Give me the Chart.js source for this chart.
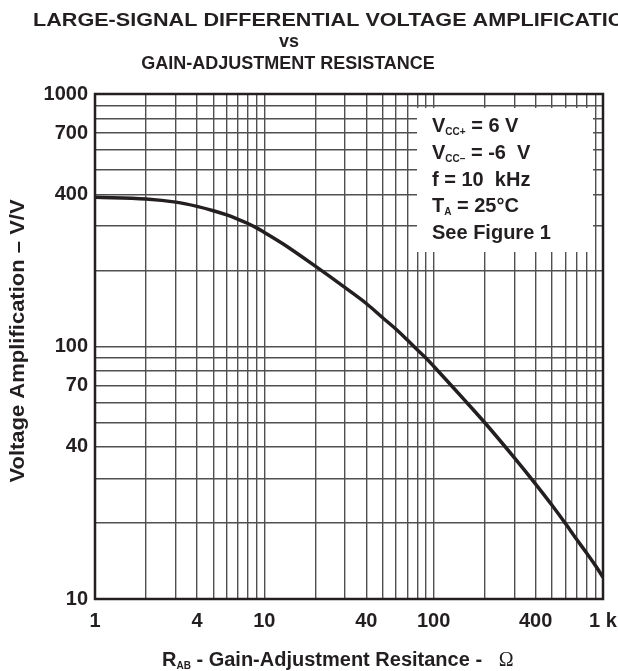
<!DOCTYPE html>
<html><head><meta charset="utf-8">
<script src="https://cdn.jsdelivr.net/npm/chart.js@4.4.1/dist/chart.umd.min.js"></script>
<style>html,body{margin:0;padding:0;background:#fff;overflow:hidden}#wrap{position:relative;width:618px;height:671px}</style>
</head><body><div id="wrap"><canvas id="c" width="618" height="671"></canvas></div>
<script>
// ---- data ----
const resistance = [1, 2, 3, 4, 5, 6, 7, 8, 9, 10, 13, 20, 30, 40, 50, 60, 70, 80, 90, 100, 150, 200, 300, 400, 500, 600, 700, 800, 900, 1000];
const amplification = [390, 384, 373, 359, 345, 332, 319, 307, 295, 283, 254, 208, 171, 148, 130, 117, 106, 97, 90, 83.5, 62, 50, 36.2, 28.5, 23.5, 19.9, 17.2, 15.2, 13.6, 12.2];

const xGridValues = [1, 2, 3, 4, 5, 6, 7, 8, 9, 10, 20, 30, 40, 50, 60, 70, 80, 90, 100, 200, 300, 400, 500, 600, 700, 800, 900, 1000];
const yGridValues = [10, 20, 30, 40, 50, 60, 70, 80, 90, 100, 200, 300, 400, 500, 600, 700, 800, 900, 1000];
const xLabelValues = [1, 4, 10, 40, 100, 400, 1000];
const xLabelTexts = ['1', '4', '10', '40', '100', '400', '1 k'];
const yLabelValues = [10, 40, 70, 100, 400, 700, 1000];
const yLabelTexts = ['10', '40', '70', '100', '400', '700', '1000'];

const titleLines = ['LARGE-SIGNAL DIFFERENTIAL VOLTAGE AMPLIFICATION', 'vs', 'GAIN-ADJUSTMENT RESISTANCE'];
const yTitle = 'Voltage Amplification \u2013 V/V';

const FONT = '"Liberation Sans", Arial, Helvetica, sans-serif';
const SERIF = '"Liberation Serif", "Times New Roman", serif';
const INK = '#231f20';
const GRID = '#505050';

function rich(ctx, x, y, parts) {
  let cx = x;
  for (const p of parts) {
    ctx.font = p.font;
    ctx.fillText(p.t, cx, y + (p.dy || 0));
    cx += ctx.measureText(p.t).width;
  }
  return cx;
}

const overlay = {
  id: 'overlay',
  afterDatasetsDraw(chart) {
    const ctx = chart.ctx;
    const a = chart.chartArea;
    ctx.save();
    // conditions box
    ctx.fillStyle = '#fff';
    ctx.fillRect(417, 108, 176, 144);
    ctx.fillStyle = INK;
    ctx.textAlign = 'left';
    ctx.textBaseline = 'alphabetic';
    const B = 'bold 20px ' + FONT, S = 'bold 10px ' + FONT;
    const lx = 432;
    rich(ctx, lx, 132, [{t: 'V', font: B}, {t: 'CC+', font: S, dy: 3}, {t: ' = 6 V', font: B}]);
    rich(ctx, lx, 158.5, [{t: 'V', font: B}, {t: 'CC\u2013', font: S, dy: 3}, {t: ' = -6  V', font: B}]);
    rich(ctx, lx, 185.5, [{t: 'f = 10  kHz', font: B}]);
    rich(ctx, lx, 212, [{t: 'T', font: B}, {t: 'A', font: S, dy: 3}, {t: ' = 25\u00B0C', font: B}]);
    rich(ctx, lx, 238.5, [{t: 'See Figure 1', font: B}]);
    // frame
    ctx.strokeStyle = INK;
    ctx.lineWidth = 2.5;
    ctx.strokeRect(a.left, a.top, a.right - a.left, a.bottom - a.top);
    ctx.restore();
  },
  afterDraw(chart) {
    const ctx = chart.ctx;
    ctx.save();
    ctx.fillStyle = INK;
    ctx.textBaseline = 'alphabetic';
    ctx.font = 'bold 18px ' + FONT;
    // first title line is drawn wider (it runs past the right edge in the reference)
    ctx.save();
    ctx.translate(33, 26);
    ctx.scale(1.2, 1);
    ctx.textAlign = 'left';
    ctx.fillText(titleLines[0], 0, 0);
    ctx.restore();
    ctx.textAlign = 'center';
    ctx.fillText(titleLines[1], 289, 47);
    ctx.fillText(titleLines[2], 288, 69);
    // x title
    ctx.textAlign = 'left';
    rich(ctx, 162, 666, [
      {t: 'R', font: 'bold 20px ' + FONT},
      {t: 'AB', font: 'bold 10px ' + FONT, dy: 3},
      {t: ' - Gain-Adjustment Resitance -   ', font: 'bold 20px ' + FONT},
      {t: '\u03A9', font: '20px ' + SERIF}
    ]);
    // y title
    ctx.translate(18, 341);
    ctx.rotate(-Math.PI / 2);
    ctx.scale(1.1, 1);
    ctx.textAlign = 'center';
    ctx.textBaseline = 'middle';
    ctx.font = 'bold 20px ' + FONT;
    ctx.fillText(yTitle, 0, 0);
    ctx.restore();
  }
};

new Chart(document.getElementById('c'), {
  type: 'line',
  data: {
    datasets: [{
      data: resistance.map((x, i) => ({x: x, y: amplification[i]})),
      borderColor: INK,
      borderWidth: 3.5,
      pointRadius: 0,
      fill: false,
      cubicInterpolationMode: 'monotone'
    }]
  },
  options: {
    responsive: false,
    animation: false,
    devicePixelRatio: 1,
    layout: {padding: {top: 94, right: 15, left: 0, bottom: 0}},
    plugins: {legend: {display: false}, tooltip: {enabled: false}, title: {display: false}},
    scales: {
      x: {
        type: 'logarithmic', min: 1, max: 1000,
        afterBuildTicks: s => { s.ticks = xGridValues.map(v => ({value: v})); },
        afterFit: s => { s.height = 72; s.paddingLeft = 0; s.paddingRight = 0; },
        ticks: {
          autoSkip: false, maxRotation: 0, minRotation: 0, padding: 10,
          color: INK, font: {family: FONT, size: 20, weight: 'bold'},
          callback: v => { const i = xLabelValues.indexOf(v); return i >= 0 ? xLabelTexts[i] : ''; }
        },
        grid: {color: GRID, lineWidth: 1.4, drawTicks: false},
        border: {display: false}
      },
      y: {
        type: 'logarithmic', min: 10, max: 1000,
        afterBuildTicks: s => { s.ticks = yGridValues.map(v => ({value: v})); },
        afterFit: s => { s.width = 95; s.paddingTop = 0; s.paddingBottom = 0; },
        ticks: {
          autoSkip: false, padding: 7,
          color: INK, font: {family: FONT, size: 20, weight: 'bold'},
          callback: v => { const i = yLabelValues.indexOf(v); return i >= 0 ? yLabelTexts[i] : ''; }
        },
        grid: {color: GRID, lineWidth: 1.4, drawTicks: false},
        border: {display: false}
      }
    }
  },
  plugins: [overlay]
});
</script>
</body></html>
